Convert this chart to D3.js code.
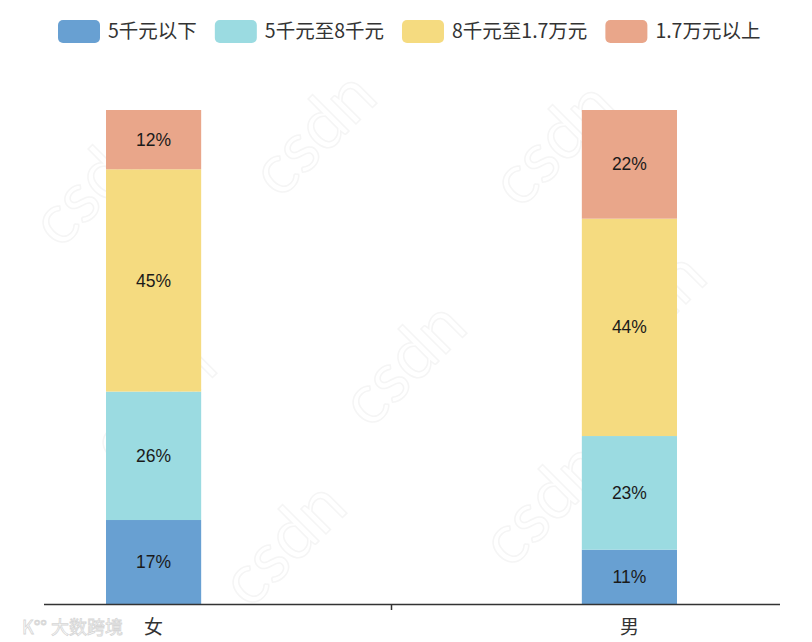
<!DOCTYPE html>
<html>
<head>
<meta charset="utf-8">
<script src="https://cdn.jsdelivr.net/npm/d3@7"></script>
<style>
  body { margin: 0; background: #fff; }
  text { font-family: "Noto Sans CJK SC", "Noto Sans", sans-serif; }
</style>
</head>
<body>
<div id="chart"></div>
<script>
// data
var categories = ["女", "男"];
var seriesNames = ["5千元以下", "5千元至8千元", "8千元至1.7万元", "1.7万元以上"];
var femaleValues = [17, 26, 45, 12];
var maleValues = [11, 23, 44, 22];
var colors = ["#68a0d2", "#9bdbe1", "#f5db80", "#e9a68a"];

var width = 812, height = 642;

var svg = d3.select("#chart").append("svg")
    .attr("width", width)
    .attr("height", height);

// faint watermark
var marks = [[110, 200], [330, 150], [570, 160], [170, 420], [420, 380], [660, 330], [300, 560], [560, 520]];
svg.append("g").selectAll("text")
    .data(marks)
    .enter().append("text")
    .attr("transform", function(d) { return "translate(" + d[0] + "," + d[1] + ") rotate(-45)"; })
    .attr("text-anchor", "middle")
    .style("font-family", "Lato, sans-serif")
    .style("font-size", "70px")
    .attr("fill", "none")
    .attr("stroke", "#f5f5f5")
    .attr("stroke-width", 1.5)
    .text("csdn");

// scales
var x = d3.scaleBand()
    .domain(categories)
    .range([106, 677])
    .paddingInner(0.8)
    .paddingOuter(0);

var y = d3.scaleLinear()
    .domain([0, 100])
    .range([604, 110]);

var rows = categories.map(function(c, i) {
    var vals = i === 0 ? femaleValues : maleValues;
    var row = { cat: c };
    seriesNames.forEach(function(s, j) { row[s] = vals[j]; });
    return row;
});

var stacked = d3.stack().keys(seriesNames)(rows);

var layer = svg.append("g").selectAll("g")
    .data(stacked)
    .enter().append("g")
    .attr("fill", function(d, i) { return colors[i]; });

layer.selectAll("rect")
    .data(function(d) { return d; })
    .enter().append("rect")
    .attr("x", function(d) { return x(d.data.cat); })
    .attr("width", x.bandwidth())
    .attr("y", function(d) { return y(d[1]); })
    .attr("height", function(d) { return y(d[0]) - y(d[1]); });

layer.selectAll("text")
    .data(function(d) { return d; })
    .enter().append("text")
    .attr("x", function(d) { return x(d.data.cat) + x.bandwidth() / 2; })
    .attr("y", function(d) { return (y(d[0]) + y(d[1])) / 2; })
    .attr("dy", "0.35em")
    .attr("text-anchor", "middle")
    .attr("fill", "#1a1a1a")
    .style("font-family", "'Liberation Sans', Arial, sans-serif")
    .style("font-size", "17.5px")
    .text(function(d) { return (d[1] - d[0]) + "%"; });

// x axis
var axis = svg.append("g");
axis.append("line")
    .attr("x1", 44).attr("x2", 780)
    .attr("y1", y(0) + 0.5).attr("y2", y(0) + 0.5)
    .attr("stroke", "#333").attr("stroke-width", 1.5);
var mid = (x(categories[0]) + x(categories[1]) + x.bandwidth()) / 2;
axis.append("line")
    .attr("x1", mid).attr("x2", mid)
    .attr("y1", y(0)).attr("y2", y(0) + 6)
    .attr("stroke", "#333").attr("stroke-width", 1.5);
axis.selectAll("text.cat")
    .data(categories)
    .enter().append("text")
    .attr("class", "cat")
    .attr("x", function(d) { return x(d) + x.bandwidth() / 2; })
    .attr("y", 627)
    .attr("dy", "0.35em")
    .attr("text-anchor", "middle")
    .attr("fill", "#333")
    .style("font-size", "19px")
    .text(function(d) { return d; });

// logo watermark
svg.append("text")
    .attr("x", 22).attr("y", 634)
    .attr("fill", "#fff")
    .attr("stroke", "#d6d6d6")
    .attr("stroke-width", 0.8)
    .style("font-size", "18px")
    .text("K°° 大数跨境");

// legend
var legend = svg.append("g");
var lx = 58;
seriesNames.forEach(function(s, i) {
    var g = legend.append("g").attr("transform", "translate(" + lx + ",20)");
    g.append("rect")
        .attr("width", 42).attr("height", 23)
        .attr("rx", 5).attr("ry", 5)
        .attr("fill", colors[i]);
    var t = g.append("text")
        .attr("x", 50).attr("y", 11.5)
        .attr("dy", "0.35em")
        .attr("fill", "#333")
        .style("font-size", "19.5px")
        .text(s);
    lx += 50 + t.node().getComputedTextLength() + 18;
});
</script>
</body>
</html>
